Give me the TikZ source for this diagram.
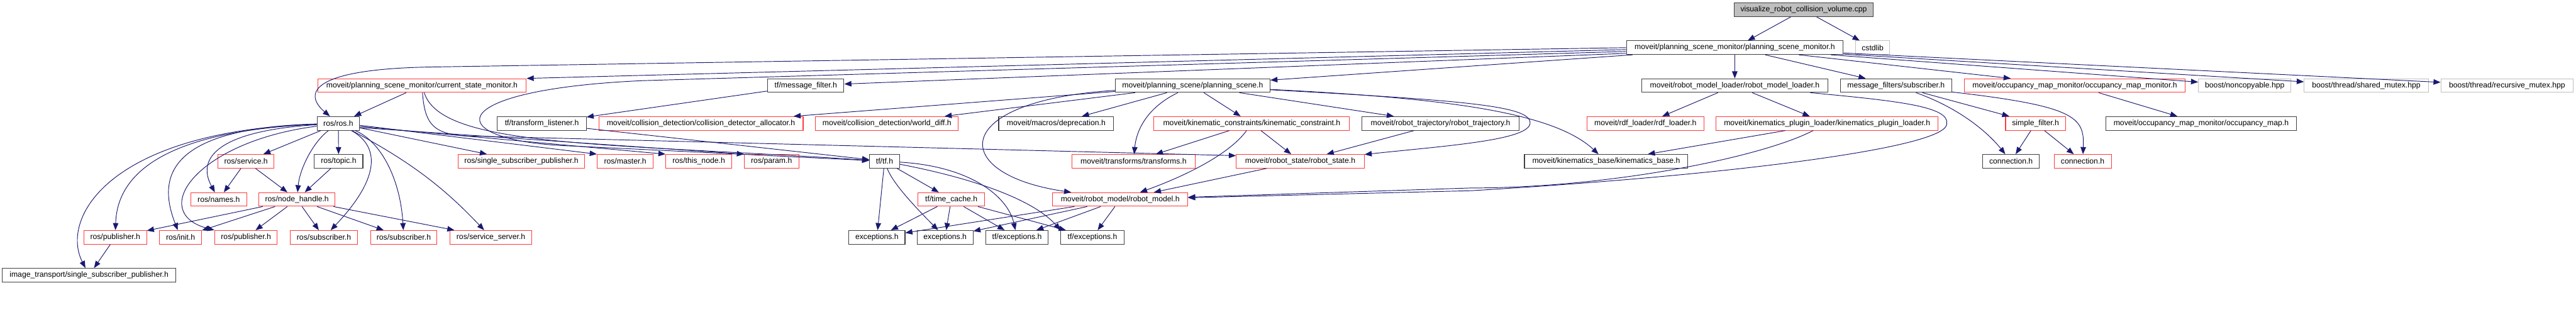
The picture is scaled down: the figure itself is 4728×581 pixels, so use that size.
\documentclass[tikz,border=0pt]{standalone}
\usepackage{fontspec}
\newfontfamily\graphfont{Liberation Sans}
\usetikzlibrary{arrows.meta}
\definecolor{edgeblue}{HTML}{191970}
\definecolor{truncred}{HTML}{FF3A3A}
\definecolor{sysgray}{HTML}{BFBFBF}
\definecolor{docgray}{HTML}{404040}

\begin{document}
\begin{tikzpicture}[x=0.5pt, y=-0.5pt,
  hdr/.style={draw=docgray, line width=0.6pt, fill=white, minimum height=12.5pt,
    inner sep=0pt, font=\graphfont\fontsize{7.05pt}{8pt}\selectfont},
  trunc/.style={hdr, draw=truncred},
  sys/.style={hdr, draw=sysgray},
  root/.style={hdr, fill=sysgray},
  wd/.style={minimum width=#1*0.5pt},
  dep/.style={draw=edgeblue, line width=0.55pt, -{Triangle[length=6.5pt,width=5pt]}}
]
\useasboundingbox (0,0) rectangle (4728,581);

% top rows
\node[root, wd=255] (vis) at (3310.5,18) {visualize\_robot\_collision\_volume.cpp};
\node[hdr, wd=398] (psm) at (3184,87.5) {moveit/planning\_scene\_monitor/planning\_scene\_monitor.h};
\node[sys, wd=62] (cstd) at (3437,87.5) {cstdlib};

\node[trunc, wd=383] (csm) at (774.5,157) {moveit/planning\_scene\_monitor/current\_state\_monitor.h};
\node[hdr, wd=140] (mfilt) at (1479,157) {tf/message\_filter.h};
\node[hdr, wd=284] (pscene) at (2189,157) {moveit/planning\_scene/planning\_scene.h};
\node[hdr, wd=342] (rml) at (3184,157) {moveit/robot\_model\_loader/robot\_model\_loader.h};
\node[hdr, wd=204] (mfsub) at (3480,157) {message\_filters/subscriber.h};
\node[trunc, wd=406] (ommon) at (3808,157) {moveit/occupancy\_map\_monitor/occupancy\_map\_monitor.h};
\node[sys, wd=170] (noncp) at (4120,157) {boost/noncopyable.hpp};
\node[sys, wd=228] (shmtx) at (4343,157) {boost/thread/shared\_mutex.hpp};
\node[sys, wd=243] (rcmtx) at (4601.5,157) {boost/thread/recursive\_mutex.hpp};

\node[hdr, wd=78] (rosh) at (621,226.5) {ros/ros.h};
\node[hdr, wd=163] (tflist) at (994.5,226.5) {tf/transform\_listener.h};
\node[trunc, wd=375] (cdalloc) at (1286.5,226.5) {moveit/collision\_detection/collision\_detector\_allocator.h};
\node[trunc, wd=262] (wdiff) at (1628,226.5) {moveit/collision\_detection/world\_diff.h};
\node[hdr, wd=211] (depr) at (1938.5,226.5) {moveit/macros/deprecation.h};
\node[trunc, wd=359] (kcons) at (2297.5,226.5) {moveit/kinematic\_constraints/kinematic\_constraint.h};
\node[hdr, wd=288] (rtraj) at (2644,226.5) {moveit/robot\_trajectory/robot\_trajectory.h};
\node[trunc, wd=214] (rdf) at (3020,226.5) {moveit/rdf\_loader/rdf\_loader.h};
\node[trunc, wd=407] (kpl) at (3353.5,226.5) {moveit/kinematics\_plugin\_loader/kinematics\_plugin\_loader.h};
\node[trunc, wd=110] (sfilt) at (3736,226.5) {simple\_filter.h};
\node[hdr, wd=350] (omap) at (4040,226.5) {moveit/occupancy\_map\_monitor/occupancy\_map.h};

% lower rows
\node[trunc, wd=103] (srv) at (451.5,296) {ros/service.h};
\node[hdr, wd=89] (topic) at (621.5,296) {ros/topic.h};
\node[trunc, wd=232] (ssp) at (957,296) {ros/single\_subscriber\_publisher.h};
\node[trunc, wd=103] (master) at (1147.5,296) {ros/master.h};
\node[trunc, wd=121] (thisn) at (1282.5,296) {ros/this\_node.h};
\node[trunc, wd=100] (param) at (1416,296) {ros/param.h};
\node[hdr, wd=55] (tfh) at (1623.5,296) {tf/tf.h};
\node[trunc, wd=227] (trf) at (2080.5,296) {moveit/transforms/transforms.h};
\node[trunc, wd=235] (rstate) at (2386.5,296) {moveit/robot\_state/robot\_state.h};
\node[hdr, wd=300] (kbase) at (2948,296) {moveit/kinematics\_base/kinematics\_base.h};
\node[hdr, wd=104] (connA) at (3691,296) {connection.h};
\node[trunc, wd=105] (connB) at (3822.5,296) {connection.h};

\node[trunc, wd=103] (names) at (401.5,366) {ros/names.h};
\node[trunc, wd=140] (nh) at (545,366) {ros/node\_handle.h};
\node[trunc, wd=122] (tcache) at (1746,366) {tf/time\_cache.h};
\node[trunc, wd=248] (rmodel) at (2056,366) {moveit/robot\_model/robot\_model.h};

\node[trunc, wd=115] (pubA) at (211.5,435.5) {ros/publisher.h};
\node[trunc, wd=77] (init) at (331.5,435.5) {ros/init.h};
\node[trunc, wd=115] (pubB) at (451.5,435.5) {ros/publisher.h};
\node[trunc, wd=123] (subA) at (594.5,435.5) {ros/subscriber.h};
\node[trunc, wd=122] (subB) at (741,435.5) {ros/subscriber.h};
\node[trunc, wd=150] (ssrv) at (901,435.5) {ros/service\_server.h};
\node[hdr, wd=103] (excA) at (1609.5,435.5) {exceptions.h};
\node[hdr, wd=103] (excB) at (1734.5,435.5) {exceptions.h};
\node[hdr, wd=115] (tfexA) at (1866.5,435.5) {tf/exceptions.h};
\node[hdr, wd=116] (tfexB) at (2005,435.5) {tf/exceptions.h};

\node[hdr, wd=319] (itssp) at (163.5,505) {image\_transport/single\_subscriber\_publisher.h};

% includes
\draw[dep] (vis) -- (psm);
\draw[dep] (vis) -- (cstd);
\draw[dep] (psm) -- (rml);
\draw[dep] (psm) -- (mfsub);
\draw[dep] (psm) -- (ommon);
\draw[dep] (psm) -- (noncp);
\draw[dep] (psm) -- (shmtx);
\draw[dep] (psm) -- (rcmtx);
\draw[dep] (psm) -- (pscene);
\draw[dep] (psm.183) -- (mfilt);
\draw[dep] (psm.181) -- (csm.north east);
\draw[dep] (psm.west) -- (790,123) .. controls (560,127) and (560,175) .. (rosh);
\draw[dep] (psm.182) -- (1180,148) .. controls (800,165) and (810,260) .. (1050,268)
  .. controls (1300,280) and (1500,290) .. (tfh);

\draw[dep] (csm) -- (rosh);
\draw[dep] (csm) .. controls (810,270) and (1100,262) .. (tfh);
\draw[dep] (csm) .. controls (780,235) and (800,250) .. (880,250) -- (rstate.175);
\draw[dep] (mfilt) -- (tflist);
\draw[dep] (tflist) -- (tfh);

\draw[dep] (pscene) -- (cdalloc);
\draw[dep] (pscene) -- (wdiff);
\draw[dep] (pscene) -- (depr);
\draw[dep] (pscene) .. controls (2100,200) and (2085,245) .. (trf);
\draw[dep] (pscene) -- (kcons);
\draw[dep] (pscene) -- (rtraj);
\draw[dep] (pscene) .. controls (2650,180) and (2850,205) .. (kbase);
\draw[dep] (pscene) .. controls (2700,185) and (2815,195) .. (2808,228)
  .. controls (2800,258) and (2650,268) .. (rstate);
\draw[dep] (pscene) .. controls (1740,185) and (1740,320) .. (rmodel);
\draw[dep] (kcons) -- (trf);
\draw[dep] (kcons) .. controls (2255,285) and (2170,325) .. (rmodel);
\draw[dep] (kcons) -- (rstate);
\draw[dep] (rtraj) -- (rstate);
\draw[dep] (rstate) -- (rmodel);

\draw[dep] (rml) -- (rdf);
\draw[dep] (rml) -- (kpl);
\draw[dep] (rml) .. controls (3480,185) and (3580,195) .. (3573,228)
  .. controls (3570,270) and (3200,320) .. (2700,350) -- (rmodel);
\draw[dep] (kpl) .. controls (3230,290) and (2950,345) .. (2700,345) -- (rmodel);
\draw[dep] (kpl) -- (kbase);

\draw[dep] (mfsub) .. controls (3600,200) and (3650,245) .. (connA);
\draw[dep] (mfsub) -- (sfilt);
\draw[dep] (mfsub) .. controls (3810,195) and (3826,215) .. (connB);
\draw[dep] (sfilt) -- (connA);
\draw[dep] (sfilt) -- (connB);
\draw[dep] (ommon) -- (omap);

\draw[dep] (rosh) -- (srv);
\draw[dep] (rosh) .. controls (575,260) and (550,310) .. (nh);
\draw[dep] (rosh) -- (topic);
\draw[dep] (rosh) .. controls (700,270) and (695,330) .. (subA);
\draw[dep] (rosh) .. controls (700,260) and (735,330) .. (subB);
\draw[dep] (rosh) .. controls (760,300) and (820,350) .. (ssrv);
\draw[dep] (rosh) -- (ssp);
\draw[dep] (rosh.355) -- (master.north west);
\draw[dep] (rosh.352) -- (thisn.north west);
\draw[dep] (rosh.349) -- (param.north west);
\draw[dep] (rosh) .. controls (400,240) and (360,290) .. (names);
\draw[dep] (rosh) .. controls (300,235) and (290,330) .. (init);
\draw[dep] (rosh) .. controls (360,260) and (270,390) .. (pubB.north west);
\draw[dep] (rosh) .. controls (300,240) and (215,320) .. (pubA);
\draw[dep] (rosh) .. controls (200,240) and (110,400) .. (itssp);

\draw[dep] (srv) -- (names);
\draw[dep] (srv) -- (nh);
\draw[dep] (topic) -- (nh);
\draw[dep] (nh) -- (pubA);
\draw[dep] (nh) -- (init);
\draw[dep] (nh) -- (pubB);
\draw[dep] (nh) -- (subA);
\draw[dep] (nh) -- (subB);
\draw[dep] (nh) -- (ssrv);
\draw[dep] (pubA) -- (itssp);

\draw[dep] (tfh) -- (excA);
\draw[dep] (tfh) .. controls (1640,340) and (1690,390) .. (excB);
\draw[dep] (tfh) -- (tcache);
\draw[dep] (tfh) .. controls (1780,305) and (1850,360) .. (tfexA);
\draw[dep] (tfh) .. controls (1800,330) and (1900,370) .. (tfexB.north west);
\draw[dep] (tcache) -- (excA);
\draw[dep] (tcache) -- (excB);
\draw[dep] (tcache) -- (tfexA);
\draw[dep] (tcache) -- (tfexB);
\draw[dep] (rmodel) -- (excA);
\draw[dep] (rmodel) -- (excB);
\draw[dep] (rmodel) -- (tfexA);
\draw[dep] (rmodel) -- (tfexB);
\end{tikzpicture}
\end{document}
